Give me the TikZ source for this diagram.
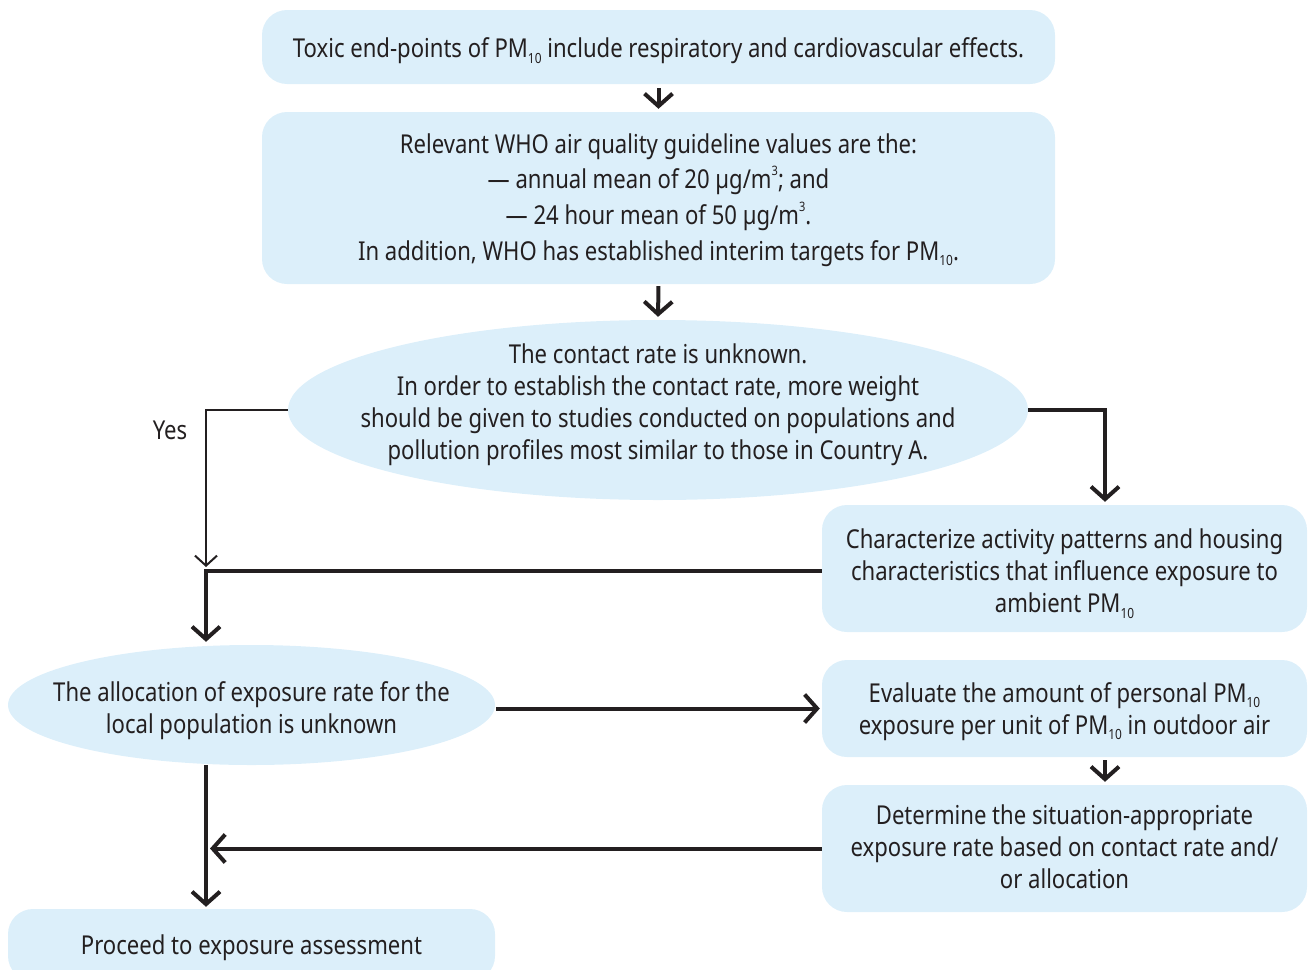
\documentclass[tikz,border=0pt]{standalone}
\usepackage{fontspec}
\setmainfont{Noto Sans}[FakeStretch=0.85]
\usetikzlibrary{arrows.meta,shapes.geometric}
\definecolor{boxfill}{RGB}{220,239,250}
\definecolor{ink}{RGB}{35,31,32}
% small lowered / raised figures used in the labels
\newcommand{\lowfig}[1]{\raisebox{-0.4ex}{\fontsize{14}{14}\selectfont #1}}
\newcommand{\highfig}[1]{\raisebox{0.95ex}{\fontsize{13}{13}\selectfont #1}}
\begin{document}
\begin{tikzpicture}[x=1pt,y=-1pt,
  every node/.style={font=\fontsize{26}{32}\selectfont, text=ink},
  rbox/.style={fill=boxfill, rounded corners=25pt, inner sep=0pt},
  oval/.style={ellipse, fill=boxfill, inner sep=0pt},
  txt/.style={align=center, inner sep=0pt},
  flow/.style={draw=ink, line width=4pt, line join=miter,
    -{Straight Barb[length=12.5pt,width=28pt]}},
  thinflow/.style={draw=ink, line width=2pt, line join=miter,
    -{Straight Barb[length=10pt,width=22pt]}}]
\useasboundingbox (0,0) rectangle (1308,969);
\clip (0,0) rectangle (1308,969);

% column guides
\coordinate (colx) at (206,0);
\coordinate (rx) at (1105,0);

% shapes
\node[rbox, minimum width=793pt, minimum height=74pt]  (b1) at (658.5,47) {};
\node[rbox, minimum width=793pt, minimum height=172pt] (b2) at (658.5,198) {};
\node[oval, minimum width=740pt, minimum height=180pt] (e1) at (658,410) {};
\node[rbox, minimum width=485pt, minimum height=127pt] (b3) at (1064.5,568.5) {};
\node[oval, minimum width=487pt, minimum height=120pt] (e2) at (251.5,705) {};
\node[rbox, minimum width=485pt, minimum height=97pt]  (b4) at (1064.5,708.5) {};
\node[rbox, minimum width=485pt, minimum height=127pt] (b5) at (1064.5,848.5) {};
\node[rbox, minimum width=487pt, minimum height=72pt]  (b6) at (251.5,945) {};

% texts
\node[txt] (t1) at (658.5,51)
  {Toxic end-points of PM\lowfig{10} include respiratory and cardiovascular effects.};
\node[txt, font=\fontsize{26}{35.7}\selectfont] (t2) at (658.5,200)
  {Relevant WHO air quality guideline values are the:\\
   — annual mean of 20 µg/m\highfig{3}; and\\
   — 24 hour mean of 50 µg/m\highfig{3}.\\
   In addition, WHO has established interim targets for PM\lowfig{10}.};
\node[txt] (t3) at (658,405)
  {The contact rate is unknown.\\
   In order to establish the contact rate, more weight\\
   should be given to studies conducted on populations and\\
   pollution profiles most similar to those in Country A.};
\node[txt] (t4) at (1064.5,573.5)
  {Characterize activity patterns and housing\\
   characteristics that influence exposure to\\
   ambient PM\lowfig{10}};
\node[txt] (t5) at (251.5,711)
  {The allocation of exposure rate for the\\
   local population is unknown};
\node[txt] (t6) at (1064.5,711.5)
  {Evaluate the amount of personal PM\lowfig{10}\\
   exposure per unit of PM\lowfig{10} in outdoor air};
\node[txt] (t7) at (1064.5,846.5)
  {Determine the situation-appropriate\\
   exposure rate based on contact rate and/\\
   or allocation};
\node[txt] (t8) at (251.5,948) {Proceed to exposure assessment};
\node (yes) at (170,430) {Yes};

% junction where the branches meet
\coordinate (j1) at (206,571);

% connectors
\draw[flow, shorten <=4pt, shorten >=3pt] (b1.south) -- (b2.north);
\draw[flow, shorten <=2pt, shorten >=3pt] (b2.south) -- (e1.north);
\draw[thinflow] (e1.west) -| ([yshift=4pt]j1);
\draw[flow, shorten >=3pt] (e1.east) -| (b3.north -| rx);
\draw[flow, shorten >=3pt] (b3.west |- j1) -- (j1) -- (j1 |- e2.north);
\draw[flow, shorten <=1pt, shorten >=2pt] (e2.east |- b4.west) -- (b4.west);
\draw[flow, shorten <=3pt, shorten >=3pt] (b4.south -| rx) -- (b5.north -| rx);
\draw[flow] (b5.west) -- ([xshift=4pt]colx |- b5.west);
\draw[flow, shorten >=2pt] (colx |- e2.south) -- (colx |- b6.north);
\end{tikzpicture}
\end{document}
